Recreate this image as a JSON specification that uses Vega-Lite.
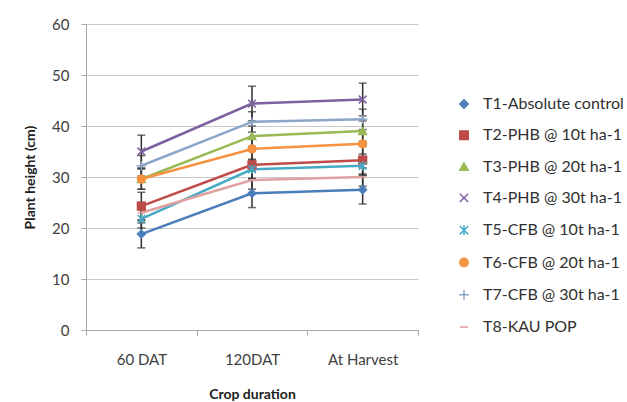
{
  "$schema": "https://vega.github.io/schema/vega-lite/v6.json",
  "width": 332,
  "height": 306,
  "autosize": {"type": "none"},
  "padding": {"left": 86, "top": 24, "right": 209, "bottom": 72},
  "background": "white",
  "config": {
    "font": "Lato",
    "view": {"stroke": null},
    "axis": {"labelFont": "Lato", "titleFont": "Lato", "labelColor": "#404040", "titleColor": "#202020", "labelFontSize": 15, "titleFontSize": 14, "titleFontWeight": "bold"},
    "legend": {"orient": "none", "legendX": 370, "legendY": 72, "title": null, "labelFont": "Lato", "labelFontSize": 16, "labelColor": "#303030", "rowPadding": 15.3, "symbolSize": 70, "labelOffset": 11, "symbolStrokeWidth": 1.5}
  },
  "data": {
    "values": [
      {"series": "T1-Absolute control", "time": "60 DAT", "value": 18.8, "lo": 16.1, "hi": 21.5},
      {"series": "T1-Absolute control", "time": "120DAT", "value": 26.8, "lo": 24.0, "hi": 29.6},
      {"series": "T1-Absolute control", "time": "At Harvest", "value": 27.5, "lo": 24.7, "hi": 30.3},
      {"series": "T2-PHB @ 10t ha-1", "time": "60 DAT", "value": 24.3, "lo": 21.6, "hi": 27.0},
      {"series": "T2-PHB @ 10t ha-1", "time": "120DAT", "value": 32.4, "lo": 29.7, "hi": 35.1},
      {"series": "T2-PHB @ 10t ha-1", "time": "At Harvest", "value": 33.3, "lo": 30.6, "hi": 36.0},
      {"series": "T3-PHB @ 20t ha-1", "time": "60 DAT", "value": 29.6, "lo": 27.6, "hi": 31.6},
      {"series": "T3-PHB @ 20t ha-1", "time": "120DAT", "value": 38.0, "lo": 36.0, "hi": 40.0},
      {"series": "T3-PHB @ 20t ha-1", "time": "At Harvest", "value": 39.0, "lo": 37.0, "hi": 41.0},
      {"series": "T4-PHB @ 30t ha-1", "time": "60 DAT", "value": 35.0, "lo": 31.8, "hi": 38.2},
      {"series": "T4-PHB @ 30t ha-1", "time": "120DAT", "value": 44.4, "lo": 41.0, "hi": 47.8},
      {"series": "T4-PHB @ 30t ha-1", "time": "At Harvest", "value": 45.2, "lo": 42.0, "hi": 48.4},
      {"series": "T5-CFB @ 10t ha-1", "time": "60 DAT", "value": 21.8, "lo": 20.0, "hi": 23.6},
      {"series": "T5-CFB @ 10t ha-1", "time": "120DAT", "value": 31.5, "lo": 29.7, "hi": 33.3},
      {"series": "T5-CFB @ 10t ha-1", "time": "At Harvest", "value": 32.2, "lo": 30.4, "hi": 34.0},
      {"series": "T6-CFB @ 20t ha-1", "time": "60 DAT", "value": 29.6, "lo": 27.6, "hi": 31.6},
      {"series": "T6-CFB @ 20t ha-1", "time": "120DAT", "value": 35.5, "lo": 33.5, "hi": 37.5},
      {"series": "T6-CFB @ 20t ha-1", "time": "At Harvest", "value": 36.5, "lo": 34.5, "hi": 38.5},
      {"series": "T7-CFB @ 30t ha-1", "time": "60 DAT", "value": 32.2, "lo": 30.2, "hi": 34.2},
      {"series": "T7-CFB @ 30t ha-1", "time": "120DAT", "value": 40.8, "lo": 38.8, "hi": 42.8},
      {"series": "T7-CFB @ 30t ha-1", "time": "At Harvest", "value": 41.3, "lo": 39.3, "hi": 43.3},
      {"series": "T8-KAU POP", "time": "60 DAT", "value": 23.0, "lo": 21.0, "hi": 25.0},
      {"series": "T8-KAU POP", "time": "120DAT", "value": 29.4, "lo": 27.6, "hi": 31.2},
      {"series": "T8-KAU POP", "time": "At Harvest", "value": 30.0, "lo": 28.2, "hi": 31.8}
    ]
  },
  "encoding": {
    "x": {
      "field": "time", "type": "nominal", "sort": ["60 DAT", "120DAT", "At Harvest"],
      "scale": {"type": "band", "paddingInner": 0, "paddingOuter": 0},
      "axis": {"title": "Crop duration", "labelAngle": 0, "tickBand": "extent", "domainColor": "#a8a8a8", "tickColor": "#a8a8a8", "titlePadding": 20, "labelPadding": 17, "tickSize": 5}
    }
  },
  "layer": [
    {
      "mark": {"type": "rule", "color": "#303030", "strokeWidth": 1.5},
      "encoding": {
        "y": {"field": "lo", "type": "quantitative"},
        "y2": {"field": "hi"}
      }
    },
    {
      "mark": {"type": "tick", "color": "#303030", "thickness": 1.5, "size": 8, "orient": "horizontal"},
      "encoding": {"y": {"field": "lo", "type": "quantitative"}}
    },
    {
      "mark": {"type": "tick", "color": "#303030", "thickness": 1.5, "size": 8, "orient": "horizontal"},
      "encoding": {"y": {"field": "hi", "type": "quantitative"}}
    },
    {
      "mark": {"type": "line", "strokeWidth": 2.5},
      "encoding": {
        "y": {"field": "value", "type": "quantitative", "scale": {"domain": [0, 60]},
          "axis": {"title": "Plant height (cm)", "values": [0, 10, 20, 30, 40, 50, 60], "gridColor": "#c8c8c8", "domainColor": "#a8a8a8", "tickColor": "#a8a8a8", "tickSize": 5, "labelPadding": 12, "titlePadding": 14}},
        "color": {"field": "series", "type": "nominal",
          "scale": {"domain": ["T1-Absolute control", "T2-PHB @ 10t ha-1", "T3-PHB @ 20t ha-1", "T4-PHB @ 30t ha-1", "T5-CFB @ 10t ha-1", "T6-CFB @ 20t ha-1", "T7-CFB @ 30t ha-1", "T8-KAU POP"],
            "range": ["#4a7ebb", "#be4b48", "#98b954", "#7d60a0", "#46aac5", "#f69240", "#8ea5cb", "#e0a0a0"]}}
      }
    },
    {
      "mark": {"type": "point", "filled": true, "opacity": 1, "strokeWidth": 1.5},
      "encoding": {
        "y": {"field": "value", "type": "quantitative"},
        "color": {"field": "series", "type": "nominal"},
        "shape": {"field": "series", "type": "nominal",
          "scale": {"domain": ["T1-Absolute control", "T2-PHB @ 10t ha-1", "T3-PHB @ 20t ha-1", "T4-PHB @ 30t ha-1", "T5-CFB @ 10t ha-1", "T6-CFB @ 20t ha-1", "T7-CFB @ 30t ha-1", "T8-KAU POP"],
            "range": ["diamond", "square", "triangle-up", "M-1,-1L1,1M-1,1L1,-1", "M-1,-1L1,1M-1,1L1,-1M0,-1.2L0,1.2", "circle", "M-1.2,0L1.2,0M0,-1.2L0,1.2", "M-1,0L1,0"]}},
        "stroke": {"field": "series", "type": "nominal",
          "scale": {"domain": ["T1-Absolute control", "T2-PHB @ 10t ha-1", "T3-PHB @ 20t ha-1", "T4-PHB @ 30t ha-1", "T5-CFB @ 10t ha-1", "T6-CFB @ 20t ha-1", "T7-CFB @ 30t ha-1", "T8-KAU POP"],
            "range": ["#4a7ebb", "#be4b48", "#98b954", "#7d60a0", "#46aac5", "#f69240", "#8ea5cb", "#e0a0a0"]}},
        "size": {"value": 60}
      }
    }
  ]
}
